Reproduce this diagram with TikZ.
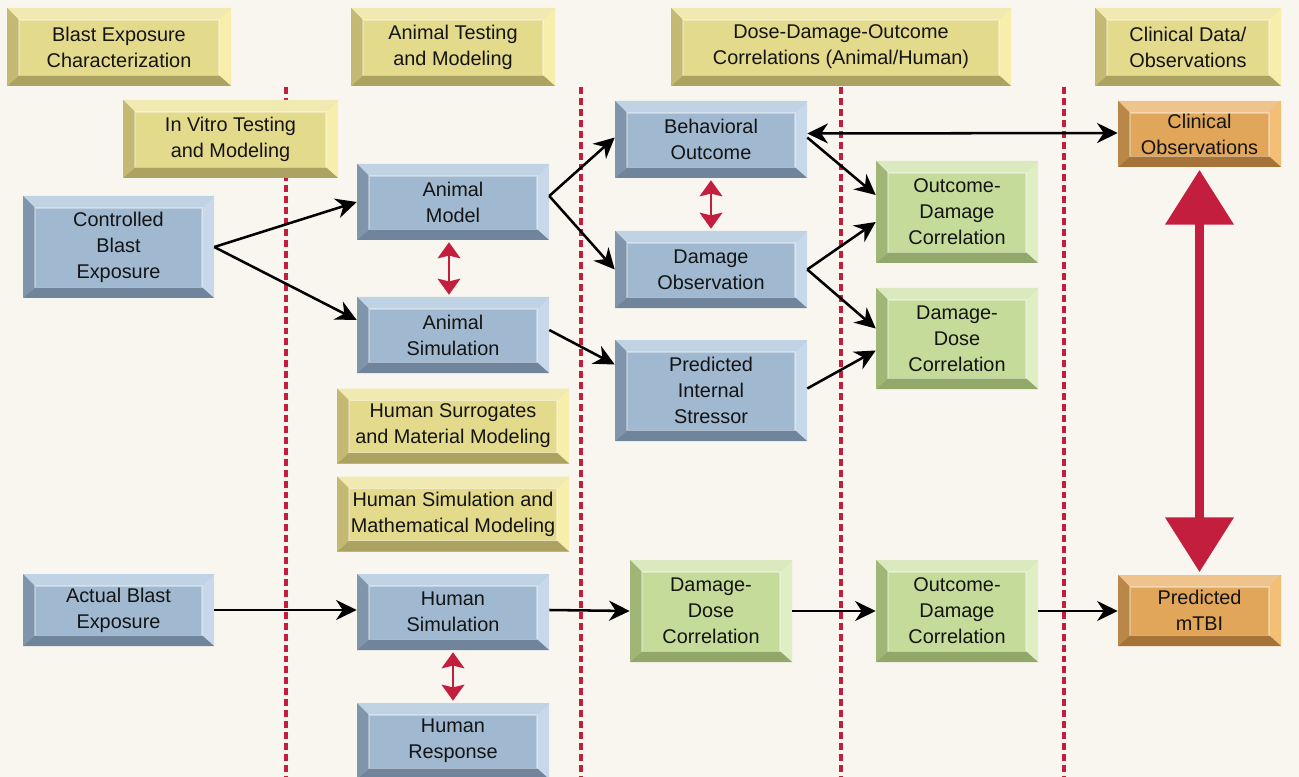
\documentclass[tikz,border=0pt]{standalone}
\usepackage{fontspec}
\setmainfont{Liberation Sans}
\usetikzlibrary{arrows.meta,calc}
\definecolor{bg}{RGB}{249,246,240}
\definecolor{redc}{RGB}{196,30,62}
\definecolor{txt}{RGB}{20,20,20}
% yellow
\definecolor{yF}{RGB}{228,218,140}
\definecolor{yT}{RGB}{240,233,178}
\definecolor{yR}{RGB}{246,238,170}
\definecolor{yB}{RGB}{172,162,98}
\definecolor{yL}{RGB}{195,185,115}
% blue
\definecolor{bF}{RGB}{160,185,208}
\definecolor{bT}{RGB}{192,211,229}
\definecolor{bR}{RGB}{198,216,234}
\definecolor{bB}{RGB}{112,132,156}
\definecolor{bL}{RGB}{128,148,172}
% green
\definecolor{gF}{RGB}{197,219,153}
\definecolor{gT}{RGB}{219,234,190}
\definecolor{gR}{RGB}{224,238,196}
\definecolor{gB}{RGB}{146,168,106}
\definecolor{gL}{RGB}{160,182,118}
% orange
\definecolor{oF}{RGB}{225,166,90}
\definecolor{oT}{RGB}{238,196,140}
\definecolor{oR}{RGB}{243,190,118}
\definecolor{oB}{RGB}{165,115,55}
\definecolor{oL}{RGB}{185,135,72}
\newcommand\bevdraw[1]{%
  \path (path picture bounding box.north west) coordinate (p1)
        (path picture bounding box.north east) coordinate (p2)
        (path picture bounding box.south east) coordinate (p3)
        (path picture bounding box.south west) coordinate (p4);
  \path ([shift={(9pt,-9pt)}]p1) coordinate (q1)
        ([shift={(-9pt,-9pt)}]p2) coordinate (q2)
        ([shift={(-9pt,8pt)}]p3) coordinate (q3)
        ([shift={(9pt,8pt)}]p4) coordinate (q4);
  \fill[#1T] (p1)--(p2)--(q2)--(q1)--cycle;
  \fill[#1R] (p2)--(p3)--(q3)--(q2)--cycle;
  \fill[#1B] (p3)--(p4)--(q4)--(q3)--cycle;
  \fill[#1L] (p4)--(p1)--(q1)--(q4)--cycle;
  \draw[white,opacity=0.35,line width=0.8pt] (q1)--(q2)--(q3)--(q4)--cycle;
}
\tikzset{
  bev/.style={rectangle, fill=#1F, draw=none, inner sep=0pt, align=center,
    text=txt, font=\fontsize{14.9}{19.6}\selectfont,
    path picture={\bevdraw{#1}}},
  sz/.style 2 args={minimum width=#1*0.75pt, minimum height=#2*0.75pt},
  conn/.style={draw=black, line width=1.9pt, -{Stealth[length=15.5pt,width=15pt,inset=5pt]}},
  biconn/.style={draw=black, line width=1.9pt, {Stealth[length=15.5pt,width=15pt,inset=5pt]}-{Stealth[length=15.5pt,width=15pt,inset=5pt]}},
  redlink/.style={draw=redc, line width=2.2pt, {Stealth[length=12pt,width=17pt,inset=2pt]}-{Stealth[length=12pt,width=17pt,inset=2pt]}, shorten <=1.5pt, shorten >=1.5pt},
  bigred/.style={draw=redc, line width=6.5pt, {Triangle[length=41pt,width=50pt]}-{Triangle[length=41pt,width=50pt]}, shorten <=2pt, shorten >=2pt},
  divider/.style={draw=redc, line width=2.3pt, dash pattern=on 5.2pt off 3pt}
}
\begin{document}
\begin{tikzpicture}[x=0.75pt,y=-0.75pt]
\fill[bg] (0,0) rectangle (1299,777);
\useasboundingbox (0,0) rectangle (1299,777);
% dividers
\foreach \xx in {286,581,841,1064} \draw[divider] (\xx,87) -- (\xx,777);
% headers
\node[bev=y, sz={224}{78}] (h1) at (119,47) {Blast Exposure\\Characterization};
\node[bev=y, sz={204}{78}] (h2) at (453,47) {Animal Testing\\and Modeling};
\node[bev=y, sz={340}{78}] (h3) at (841,47) {Dose-Damage-Outcome\\Correlations (Animal/Human)};
\node[bev=y, sz={186}{78}] (h4) at (1188,47) {Clinical Data/\\Observations};
\node[bev=y, sz={215}{78}] (iv) at (230.5,139) {In Vitro Testing\\and Modeling};
\node[bev=y, sz={232}{75}] (hs) at (453,426) {Human Surrogates\\and Material Modeling};
\node[bev=y, sz={232}{75}] (hm) at (453,514) {Human Simulation and\\Mathematical Modeling};
% blue
\node[bev=b, sz={191}{102}] (cbe) at (118.5,247) {Controlled\\Blast\\Exposure};
\node[bev=b, sz={192}{76}] (am) at (453,202) {Animal\\Model};
\node[bev=b, sz={192}{76}] (as) at (453,335) {Animal\\Simulation};
\node[bev=b, sz={192}{77}] (bo) at (711,139.5) {Behavioral\\Outcome};
\node[bev=b, sz={192}{77}] (do) at (711,269.5) {Damage\\Observation};
\node[bev=b, sz={192}{101}] (pis) at (711,390.5) {Predicted\\Internal\\Stressor};
\node[bev=b, sz={191}{72}] (abe) at (118.5,610) {Actual Blast\\Exposure};
\node[bev=b, sz={192}{76}] (hsim) at (453,612) {Human\\Simulation};
\node[bev=b, sz={192}{76}] (hr) at (453,741) {Human\\Response};
% green
\node[bev=g, sz={162}{102}] (od1) at (957,212) {Outcome-\\Damage\\Correlation};
\node[bev=g, sz={162}{101}] (dd1) at (957,338.5) {Damage-\\Dose\\Correlation};
\node[bev=g, sz={162}{102}] (dd2) at (711,611) {Damage-\\Dose\\Correlation};
\node[bev=g, sz={162}{102}] (od2) at (957,611) {Outcome-\\Damage\\Correlation};
% orange
\node[bev=o, sz={163}{66}] (co) at (1199.5,134) {Clinical\\Observations};
\node[bev=o, sz={163}{71}] (pm) at (1199.5,610.5) {Predicted\\mTBI};
% black connectors
\draw[conn] (cbe.east) -- (am.west);
\draw[conn] (cbe.east) -- ($(as.west)+(0,-15)$);
\draw[conn] ($(am.east)+(0,-6)$) -- ($(bo.west)+(0,-2)$);
\draw[conn] ($(am.east)+(0,-6)$) -- (do.west);
\draw[conn] ($(as.east)+(0,-5)$) -- ($(pis.west)+(0,-26)$);
\draw[conn] ($(bo.east)+(0,-2)$) -- ($(od1.west)+(0,-17)$);
\draw[conn] (do.east) -- ($(od1.west)+(0,10)$);
\draw[conn] (do.east) -- ($(dd1.west)+(0,-10)$);
\draw[conn] ($(pis.east)+(0,-2)$) -- ($(dd1.west)+(0,12)$);
\draw[biconn] ($(bo.east)+(0,-6)$) -- ($(co.west)+(0,-1)$);
\draw[conn] (abe.east) -- (abe.east -| hsim.west);
\draw[conn] ($(hsim.east)+(0,-2)$) -- (dd2.west);
\draw[conn] (dd2.east) -- (od2.east -| od2.west);
\draw[conn] (od2.east) -- (od2.east -| pm.west);
% red links
\draw[redlink] ([xshift=-3pt]am.south) -- ([xshift=-3pt]as.north);
\draw[redlink] (bo.south) -- (do.north);
\draw[redlink] (hsim.south) -- (hr.north);
\draw[bigred] (co.south) -- (pm.north);
\end{tikzpicture}
\end{document}
